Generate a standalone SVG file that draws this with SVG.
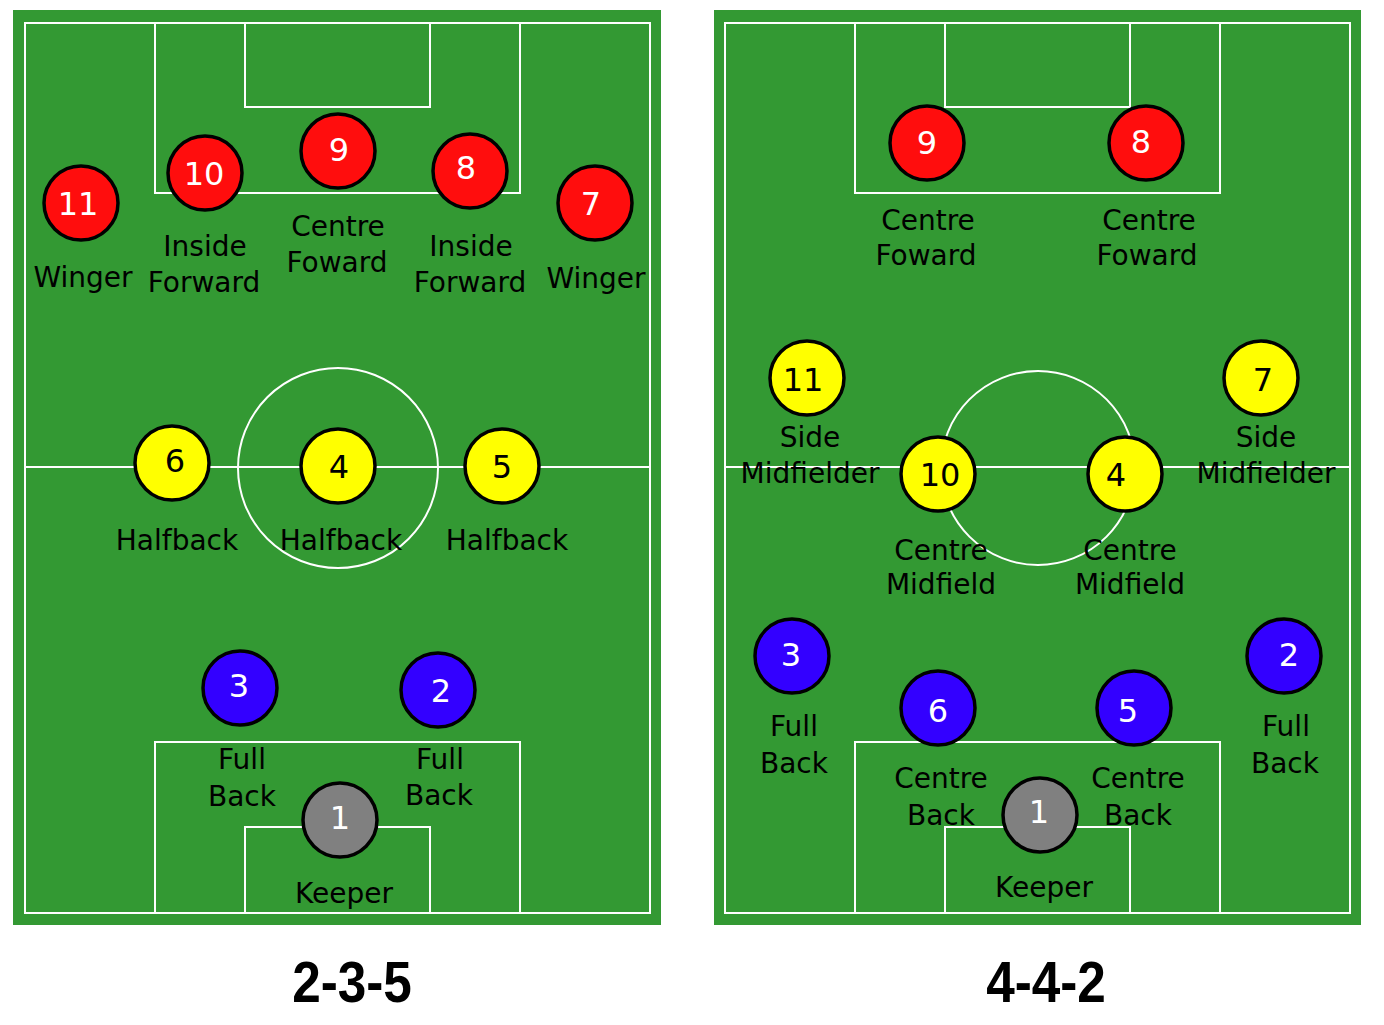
<svg xmlns="http://www.w3.org/2000/svg" width="1384" height="1025" viewBox="0 0 1384 1025">
<style>
.field{fill:#339933}
.line{fill:none;stroke:#ffffff;stroke-width:2}
.p{stroke:#000;stroke-width:3.5}
.red{fill:#ff0d0d}
.yel{fill:#ffff00}
.blu{fill:#3300ff}
.gry{fill:#808080}
.num{font-family:"DejaVu Sans",Verdana,sans-serif;font-size:32px;text-anchor:middle;fill:#fff}
.numd{font-family:"DejaVu Sans",Verdana,sans-serif;font-size:32px;text-anchor:middle;fill:#000}
.lbl{font-family:"DejaVu Sans",Verdana,sans-serif;font-size:28px;text-anchor:middle;fill:#000}
.title{font-family:"Liberation Sans",Arial,sans-serif;font-size:57px;font-weight:bold;text-anchor:middle;fill:#000}
</style>
<rect width="1384" height="1025" fill="#ffffff"/>
<g id="pitch-left">
<rect class="field" x="13" y="10" width="648" height="915"/>
<rect class="line" x="25" y="23" width="625" height="890"/>
<rect class="line" x="155" y="23" width="365" height="170"/>
<rect class="line" x="245" y="23" width="185" height="84"/>
<line class="line" x1="25" y1="467" x2="650" y2="467"/>
<circle class="line" cx="338" cy="468" r="100"/>
<rect class="line" x="155" y="742" width="365" height="171"/>
<rect class="line" x="245" y="827" width="185" height="86"/>
</g>
<g id="pitch-right">
<rect class="field" x="714" y="10" width="647" height="915"/>
<rect class="line" x="725" y="23" width="625" height="890"/>
<rect class="line" x="855" y="23" width="365" height="170"/>
<rect class="line" x="945" y="23" width="185" height="84"/>
<line class="line" x1="725" y1="467" x2="1350" y2="467"/>
<circle class="line" cx="1038" cy="468" r="97"/>
<rect class="line" x="855" y="742" width="365" height="171"/>
<rect class="line" x="945" y="827" width="185" height="86"/>
</g>
<g id="connectors"></g>
<!-- 2-3-5 -->
<g id="l11"><circle class="p red" cx="81" cy="203" r="37"/><text class="num" x="78" y="215">11</text><text class="lbl" x="83" y="287">Winger</text></g>
<g id="l10"><circle class="p red" cx="205" cy="173" r="37"/><text class="num" x="204" y="185">10</text><text class="lbl" x="205" y="256">Inside</text><text class="lbl" x="204" y="292">Forward</text></g>
<g id="l9"><circle class="p red" cx="338" cy="151" r="37"/><text class="num" x="339" y="161">9</text><text class="lbl" x="338" y="236">Centre</text><text class="lbl" x="337" y="272">Foward</text></g>
<g id="l8"><circle class="p red" cx="470" cy="171" r="37"/><text class="num" x="466" y="179">8</text><text class="lbl" x="471" y="256">Inside</text><text class="lbl" x="470" y="292">Forward</text></g>
<g id="l7"><circle class="p red" cx="595" cy="203" r="37"/><text class="num" x="591" y="215">7</text><text class="lbl" x="596" y="288">Winger</text></g>
<g id="l6"><circle class="p yel" cx="172" cy="463" r="37"/><text class="numd" x="175" y="472">6</text><text class="lbl" x="177" y="550">Halfback</text></g>
<g id="l4"><circle class="p yel" cx="338" cy="466" r="37"/><text class="numd" x="339" y="478">4</text><text class="lbl" x="341" y="550">Halfback</text></g>
<g id="l5"><circle class="p yel" cx="502" cy="466" r="37"/><text class="numd" x="502" y="478">5</text><text class="lbl" x="507" y="550">Halfback</text></g>
<g id="l3"><circle class="p blu" cx="240" cy="688" r="37"/><text class="num" x="239" y="697">3</text><text class="lbl" x="242" y="769">Full</text><text class="lbl" x="242" y="806">Back</text></g>
<g id="l2"><circle class="p blu" cx="438" cy="690" r="37"/><text class="num" x="441" y="702">2</text><text class="lbl" x="440" y="769">Full</text><text class="lbl" x="439" y="805">Back</text></g>
<g id="l1"><circle class="p gry" cx="340" cy="820" r="37"/><text class="num" x="340" y="829">1</text><text class="lbl" x="344" y="903">Keeper</text></g>
<!-- 4-4-2 -->
<g id="r9"><circle class="p red" cx="927" cy="143" r="37"/><text class="num" x="927" y="154">9</text><text class="lbl" x="928" y="230">Centre</text><text class="lbl" x="926" y="265">Foward</text></g>
<g id="r8"><circle class="p red" cx="1146" cy="143" r="37"/><text class="num" x="1141" y="153">8</text><text class="lbl" x="1149" y="230">Centre</text><text class="lbl" x="1147" y="265">Foward</text></g>
<g id="r11"><circle class="p yel" cx="807" cy="378" r="37"/><text class="numd" x="803" y="391">11</text><text class="lbl" x="810" y="447">Side</text><text class="lbl" x="810" y="483">Midfielder</text></g>
<g id="r7"><circle class="p yel" cx="1261" cy="378" r="37"/><text class="numd" x="1263" y="391">7</text><text class="lbl" x="1266" y="447">Side</text><text class="lbl" x="1266" y="483">Midfielder</text></g>
<g id="r10"><circle class="p yel" cx="938" cy="474" r="37"/><text class="numd" x="940" y="486">10</text><text class="lbl" x="941" y="560">Centre</text><text class="lbl" x="941" y="594">Midfield</text></g>
<g id="r4"><circle class="p yel" cx="1125" cy="474" r="37"/><text class="numd" x="1116" y="486">4</text><text class="lbl" x="1130" y="560">Centre</text><text class="lbl" x="1130" y="594">Midfield</text></g>
<g id="r3"><circle class="p blu" cx="792" cy="656" r="37"/><text class="num" x="791" y="666">3</text><text class="lbl" x="794" y="736">Full</text><text class="lbl" x="794" y="773">Back</text></g>
<g id="r2"><circle class="p blu" cx="1284" cy="656" r="37"/><text class="num" x="1289" y="666">2</text><text class="lbl" x="1286" y="736">Full</text><text class="lbl" x="1285" y="773">Back</text></g>
<g id="r6"><circle class="p blu" cx="938" cy="708" r="37"/><text class="num" x="938" y="722">6</text><text class="lbl" x="941" y="788">Centre</text><text class="lbl" x="941" y="825">Back</text></g>
<g id="r5"><circle class="p blu" cx="1134" cy="708" r="37"/><text class="num" x="1128" y="722">5</text><text class="lbl" x="1138" y="788">Centre</text><text class="lbl" x="1138" y="825">Back</text></g>
<g id="r1"><circle class="p gry" cx="1040" cy="815" r="37"/><text class="num" x="1039" y="823">1</text><text class="lbl" x="1044" y="897">Keeper</text></g>
<g id="titles">
<text class="title" transform="translate(352,1002) scale(0.9,1)">2-3-5</text>
<text class="title" transform="translate(1046,1002) scale(0.9,1)">4-4-2</text>
</g>
</svg>
